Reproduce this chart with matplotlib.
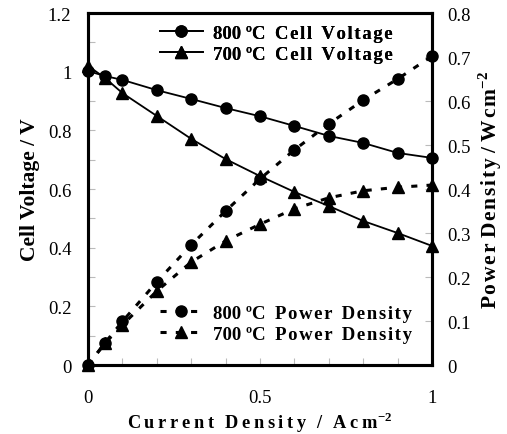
import matplotlib
matplotlib.use("Agg")
import matplotlib.pyplot as plt
from matplotlib.ticker import FixedLocator

plt.rcParams['font.family'] = ['Liberation Serif', 'DejaVu Serif']
plt.rcParams['mathtext.fontset'] = 'custom'
plt.rcParams['mathtext.rm'] = 'Liberation Serif'
plt.rcParams['mathtext.bf'] = 'Liberation Serif:bold'

current = [0, 0.05, 0.1, 0.2, 0.3, 0.4, 0.5, 0.6, 0.7, 0.8, 0.9, 1.0]
v800 = [1.002, 0.985, 0.972, 0.937, 0.907, 0.876, 0.848, 0.815, 0.781, 0.757, 0.723, 0.706]
v700 = [1.02, 0.978, 0.927, 0.849, 0.771, 0.702, 0.644, 0.59, 0.542, 0.491, 0.45, 0.406]
p800 = [0.0, 0.051, 0.099, 0.189, 0.273, 0.35, 0.423, 0.489, 0.548, 0.602, 0.65, 0.702]
p700 = [0.0, 0.05, 0.091, 0.168, 0.234, 0.282, 0.32, 0.355, 0.38, 0.396, 0.404, 0.409]

x_ticks = [0, 0.5, 1]
x_minor = [0.1, 0.2, 0.3, 0.4, 0.6, 0.7, 0.8, 0.9]
v_ticks = [0, 0.2, 0.4, 0.6, 0.8, 1.0, 1.2]
v_labels = ['0', '0.2', '0.4', '0.6', '0.8', '1', '1.2']
v_minor = [0.1, 0.3, 0.5, 0.7, 0.9, 1.1]
p_ticks = [0, 0.1, 0.2, 0.3, 0.4, 0.5, 0.6, 0.7, 0.8]
p_labels = ['0', '0.1', '0.2', '0.3', '0.4', '0.5', '0.6', '0.7', '0.8']

TS = '\u2009'
HS = '\u200a'
def spaced(s, sep=TS):
    return sep.join(s)

fig = plt.figure(figsize=(5.07, 4.35), dpi=100)
ax = fig.add_axes([0.1736, 0.1586, 0.6785, 0.8092])
ax2 = ax.twinx()

ms = 8
l1, = ax.plot(current, v800, '-', color='black', lw=1.3, marker='o', ms=ms, clip_on=False, zorder=5)
l2, = ax.plot(current, v700, '-', color='black', lw=1.3, marker='^', ms=ms + 1, clip_on=False, zorder=5)
l3, = ax2.plot(current, p800, color='black', lw=2.2, ls=(0, (2, 3)), marker='o', ms=ms, clip_on=False, zorder=5)
l4, = ax2.plot(current, p700, color='black', lw=2.2, ls=(0, (2, 3)), marker='^', ms=ms + 1, clip_on=False, zorder=5)

ax.set_xlim(0, 1)
ax.set_ylim(0, 1.2)
ax2.set_ylim(0, 0.8)

ax.xaxis.set_major_locator(FixedLocator(x_ticks))
ax.xaxis.set_minor_locator(FixedLocator(x_minor))
ax.yaxis.set_major_locator(FixedLocator(v_ticks))
ax.yaxis.set_minor_locator(FixedLocator(v_minor))
ax2.yaxis.set_major_locator(FixedLocator(p_ticks))

ax.set_xticklabels(['0', '0.5', '1'])
ax.set_yticklabels(v_labels)
ax2.set_yticklabels(p_labels)

for a in (ax, ax2):
    a.tick_params(which='both', direction='in', color='#bbbbbb', labelsize=13.5, width=0.8, length=5)
    for s in a.spines.values():
        s.set_linewidth(2.2)
ax.tick_params(axis='x', pad=17)
ax.tick_params(axis='y', pad=12)
ax2.tick_params(axis='y', pad=11)

ax.set_xlabel(spaced('Current') + TS * 3 + spaced('Density') + TS * 3 + '/' + TS * 3 + spaced('Acm') + '$^{\\mathbf{-2}}$',
              fontsize=13.2, fontweight='bold')
ax.xaxis.set_label_coords(0.5, -0.128)
ax.set_ylabel('Cell Voltage / V', fontsize=15.5, fontweight='bold')
ax.yaxis.set_label_coords(-0.14, 0.5)
ax2.set_ylabel(spaced('Power', HS) + ' ' + spaced('Density', HS) + ' / ' + spaced('Wcm', HS) + '$^{\\mathbf{-2}}$',
               fontsize=15.5, fontweight='bold')
ax2.yaxis.set_label_coords(1.13, 0.5)

leg1 = ax.legend([l1, l2], ['800 ºC  ' + spaced('Cell', HS) + '  ' + spaced('Voltage', HS),
                            '700 ºC  ' + spaced('Cell', HS) + '  ' + spaced('Voltage', HS)],
                 loc='upper left', bbox_to_anchor=(0.16, 1.015), frameon=False,
                 numpoints=1, handlelength=2.3, prop={'weight': 'bold', 'size': 13.5},
                 labelspacing=0.22, handletextpad=0.55)
ax.add_artist(leg1)
leg2 = ax2.legend([l3, l4], ['800 ºC  ' + spaced('Power', HS) + '  ' + spaced('Density', HS),
                             '700 ºC  ' + spaced('Power', HS) + '  ' + spaced('Density', HS)],
                  loc='lower left', bbox_to_anchor=(0.16, 0.015), frameon=False,
                  numpoints=1, handlelength=2.3, prop={'weight': 'bold', 'size': 13.5},
                  labelspacing=0.22, handletextpad=0.55)

fig.savefig('out.png', dpi=100)
